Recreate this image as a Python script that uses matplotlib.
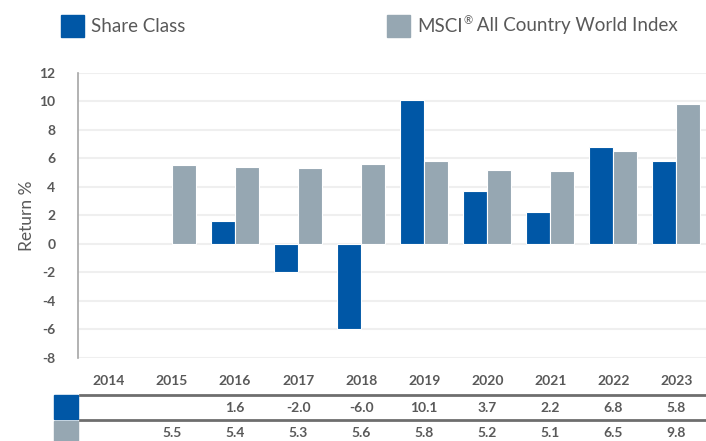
import matplotlib
matplotlib.use('Agg')
import matplotlib.pyplot as plt
import matplotlib.transforms as mtrans
from matplotlib.patches import Rectangle
from matplotlib.lines import Line2D
import numpy as np

# ── Data ──────────────────────────────────────────────────────────────
years = ["2014", "2015", "2016", "2017", "2018", "2019", "2020", "2021", "2022", "2023"]
share_class = [None, None, 1.6, -2.0, -6.0, 10.1, 3.7, 2.2, 6.8, 5.8]
index_ret = [None, 5.5, 5.4, 5.3, 5.6, 5.8, 5.2, 5.1, 6.5, 9.8]
yticks = [-8, -6, -4, -2, 0, 2, 4, 6, 8, 10, 12]

BLUE = "#0057A6"
GREY = "#96A7B2"
TXT = "#595959"

plt.rcParams['font.family'] = ['Lato', 'DejaVu Sans']

W, H = 706, 441
fig = plt.figure(figsize=(W / 100, H / 100), dpi=100)
ax = fig.add_axes([77.5 / W, 1 - 358 / H, (W - 77.5) / W, (358 - 72.7) / H])

x = np.arange(len(years))
bw = 0.38
sc = [np.nan if v is None else v for v in share_class]
ix = [np.nan if v is None else v for v in index_ret]
ax.bar(x - bw / 2, sc, bw, color=BLUE, edgecolor="white", linewidth=0.8, zorder=3)
ax.bar(x + bw / 2, ix, bw, color=GREY, edgecolor="white", linewidth=0.8, zorder=3)

ax.set_xlim(-0.5, 9.47)
ax.set_ylim(-8, 12)
ax.set_yticks(yticks)
ax.set_yticklabels([str(t) for t in yticks], fontweight="bold", fontsize=10, color=TXT)
ax.yaxis.grid(True, color="#EFEFEF", linewidth=1.5, zorder=0)
ax.set_axisbelow(True)
for s in ["top", "right", "bottom"]:
    ax.spines[s].set_visible(False)
ax.spines["left"].set_color("#A6A6A6")
ax.spines["left"].set_linewidth(1.2)
ax.set_xticks([])
ax.tick_params(axis="y", length=0, pad=16)
ax.set_ylabel("Return %", fontsize=12.5, color=TXT, va="center")
ax.yaxis.set_label_coords(-(77.5 - 27) / (W - 77.5), 0.5)

# ── Data table below the chart ───────────────────────────────────────
trans = mtrans.blended_transform_factory(ax.transData, fig.transFigure)
for i, yr in enumerate(years):
    ax.text(i, 1 - 381 / H, yr, transform=trans, ha="center", va="center",
            fontsize=10, fontweight="bold", color=TXT)
for row_y, vals in [(408, share_class), (433, index_ret)]:
    for i, v in enumerate(vals):
        if v is None:
            continue
        ax.text(i, 1 - row_y / H, f"{v:.1f}", transform=trans, ha="center",
                va="center", fontsize=10, fontweight="bold", color=TXT)

for ly in (395, 420):
    fig.add_artist(Line2D([80 / W, 1], [1 - ly / H] * 2, color="#6E6E6E",
                          linewidth=2, transform=fig.transFigure))
fig.add_artist(Rectangle((54 / W, 1 - 419 / H), 24 / W, 24 / H, color=BLUE,
                         transform=fig.transFigure))
fig.add_artist(Rectangle((54 / W, 0), 24 / W, 1 - 421 / H, color=GREY,
                         transform=fig.transFigure))

# ── Legend ────────────────────────────────────────────────────────────
renderer = fig.canvas.get_renderer()
ly = 1 - 26 / H
fig.add_artist(Rectangle((61 / W, 1 - 37 / H), 23 / W, 22 / H, color=BLUE,
                         transform=fig.transFigure))
fig.text(91 / W, ly, "Share Class", ha="left", va="center", fontsize=13.5, color=TXT)

fig.add_artist(Rectangle((387 / W, 1 - 37 / H), 23 / W, 22 / H, color=GREY,
                         transform=fig.transFigure))
t1 = fig.text(417 / W, ly, "MSCI", ha="left", va="center", fontsize=13.5, color=TXT)
x1 = t1.get_window_extent(renderer).x1
t2 = fig.text(x1 / W + 0.5 / W, ly + 5 / H, "®", ha="left", va="center", fontsize=8, color=TXT)
x2 = t2.get_window_extent(renderer).x1
fig.text(x2 / W, ly, " All Country World Index", ha="left", va="center",
         fontsize=13.5, color=TXT)

fig.savefig("out.png", dpi=100)
